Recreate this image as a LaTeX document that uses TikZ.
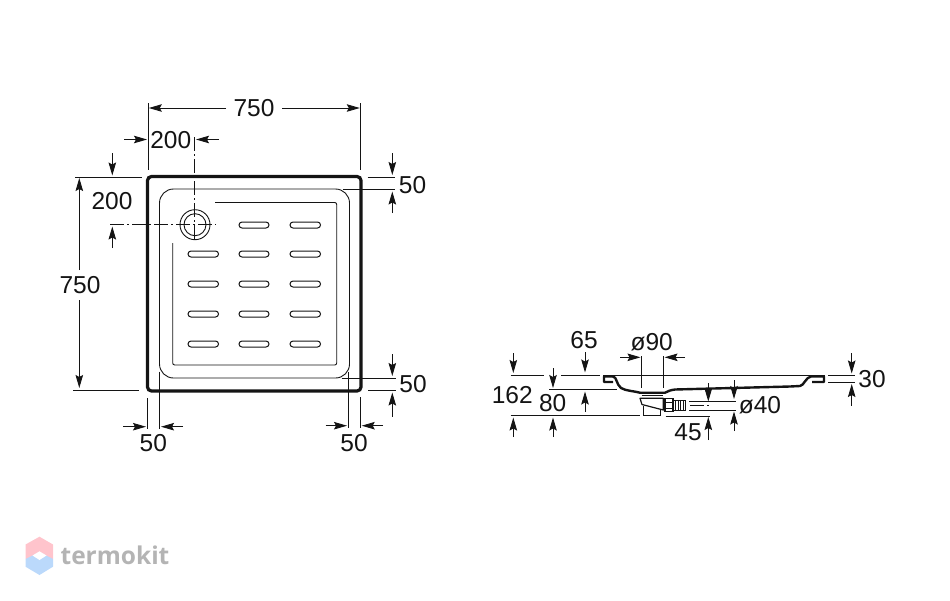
\documentclass[tikz,border=0pt]{standalone}
\usepackage{fontspec}
\setmainfont{Liberation Sans}
\newfontfamily\logofont{Open Sans}
\usetikzlibrary{arrows.meta}
\definecolor{inkline}{HTML}{141414}
\definecolor{logopink}{HTML}{FFC4CC}
\definecolor{logoblue}{HTML}{BBD9FB}
\definecolor{logogray}{HTML}{B4B4B4}
\tikzset{
  x=1pt, y=-1pt,
  dimline/.style={line width=.9pt, -{Stealth[length=13pt,width=7.5pt,inset=2pt]}},
  extline/.style={line width=.9pt},
  axisline/.style={line width=.8pt, dash pattern=on 14pt off 3pt on 2pt off 3pt},
  trayline/.style={line width=.9pt},
  heavyline/.style={line width=3.2pt},
  profile/.style={line width=2.4pt},
  slot/.style={line width=1pt, rounded corners=3pt},
  dimtext/.style={font=\fontsize{24.5}{26}\selectfont, text=inkline, inner sep=0pt}
}
\begin{document}
\begin{tikzpicture}[color=inkline]
\useasboundingbox (0,0) rectangle (950,600);
% plan view
\draw[heavyline, rounded corners=4pt] (147.5,176.5) rectangle (361,391);
\draw[trayline, rounded corners=14pt] (159.5,189) rectangle (349.5,378);
\draw[trayline, rounded corners=2pt] (172.7,243) -- (172.7,365) -- (336.7,365) -- (336.7,202.5) -- (215,202.5);
\draw[slot] (239,222) rectangle (269,228);
\draw[slot] (290,222) rectangle (320.5,228);
\draw[slot] (188,251) rectangle (218.5,257);
\draw[slot] (239,251) rectangle (269,257);
\draw[slot] (290,251) rectangle (320.5,257);
\draw[slot] (188,281) rectangle (218.5,287);
\draw[slot] (239,281) rectangle (269,287);
\draw[slot] (290,281) rectangle (320.5,287);
\draw[slot] (188,311) rectangle (218.5,317);
\draw[slot] (239,311) rectangle (269,317);
\draw[slot] (290,311) rectangle (320.5,317);
\draw[slot] (188,341) rectangle (218.5,347);
\draw[slot] (239,341) rectangle (269,347);
\draw[slot] (290,341) rectangle (320.5,347);
% drain
\draw[trayline] (195,224.7) circle (15);
\draw[trayline] (195,224.7) circle (11);
\draw[axisline] (194.7,137) -- (194.7,242);
\draw[axisline] (110,224.7) -- (216,224.7);
% 750 top
\draw[extline] (148.3,103) to (148.3,170);
\draw[extline] (360.3,103) to (360.3,170);
\draw[dimline] (226,108) -- (148.8,108);
\draw[dimline] (282,108) -- (359.8,108);
\node[dimtext] (widthlabel) at (254,108) {750};
% 200 top
\draw[dimline] (124,139.5) -- (147,139.5);
\draw[dimline] (219,139.5) -- (196,139.5);
\node[dimtext] (drainxlabel) at (170.7,140) {200};
% 200 left
\draw[dimline] (112.3,153) -- (112.3,175.5);
\draw[dimline] (112.3,248) -- (112.3,226.5);
\node[dimtext] (drainylabel) at (112,201.5) {200};
% 750 left
\draw[extline] (75,177) to (141.7,177);
\draw[extline] (73,390.7) to (139,390.7);
\draw[dimline] (79.3,270) -- (79.3,178);
\draw[dimline] (79.3,300) -- (79.3,388);
\node[dimtext] (depthlabel) at (80,285) {750};
% 50 top right
\draw[extline] (367.7,177.3) to (395,177.3);
\draw[extline] (342.7,189) to (395,189);
\draw[dimline] (392.3,153) -- (392.3,175);
\draw[dimline] (392.3,213) -- (392.3,191.5);
\node[dimtext] (rimtoplabel) at (412.5,185) {50};
% 50 bottom right
\draw[extline] (341.7,378.3) to (396,378.3);
\draw[extline] (368,390) to (396,390);
\draw[dimline] (392.3,354) -- (392.3,376);
\draw[dimline] (392.3,416.7) -- (392.3,392.5);
\node[dimtext] (rimbottomlabel) at (413,384) {50};
% 50 bottom left
\draw[extline] (147.3,398) to (147.3,429);
\draw[extline] (159.3,371.7) to (159.3,429);
\draw[dimline] (123,426.7) -- (146,426.7);
\draw[dimline] (183,426.7) -- (161,426.7);
\node[dimtext] (rimleftlabel) at (153.3,443.5) {50};
% 50 bottom right, horizontal
\draw[extline] (348.3,372) to (348.3,428);
\draw[extline] (360.3,397) to (360.3,428);
\draw[dimline] (325.7,425.7) -- (347,425.7);
\draw[dimline] (383,425.7) -- (361.7,425.7);
\node[dimtext] (rimrightlabel) at (354,443.5) {50};
% section view
\draw[trayline] (603,375) to (825,375);
\draw[profile, line join=round] (613,382) -- (604,382) -- (604,376.5) -- (613,376.5) .. controls (617,377) and (616,384) .. (621,388) .. controls (626,391) and (634,391) .. (640,392.7) -- (665,392.7) .. controls (668,391) and (671,390) .. (675,389.5) -- (790,386.5) -- (800,386) .. controls (804,385.5) and (806,377) .. (811,376.5) -- (824,376.5) -- (824,382) -- (812,382);
% drain body
\draw[trayline] (641.7,395) -- (663,395);
\draw[line width=1.2pt, line join=round] (640,398.3) -- (663.3,398.3) -- (663.3,410) -- (642,404.5) -- cycle;
\draw[trayline] (643.3,406) -- (643.3,415.5) -- (660,415.5) -- (660,409.5);
\draw[line width=1.2pt] (665,398.3) rectangle (673,411.7);
\draw[trayline] (665,402) -- (673,402);
\draw[trayline] (665,408) -- (673,408);
\draw[trayline] (663.3,401) -- (665,401);
\draw[trayline] (673,400) -- (685,400) -- (685,410) -- (673,410);
\draw[trayline] (675.5,400) -- (675.5,410);
\draw[trayline] (678,400) -- (678,410);
\draw[trayline] (680.5,400) -- (680.5,410);
\draw[trayline] (683,400) -- (683,410);
% 162, 80, 65
\draw[extline] (510.7,375) to (544,375);
\draw[extline] (561,375) to (600,375);
\draw[extline] (549.3,389.3) to (616.7,389.3);
\draw[extline] (510.7,415.3) to (640,415.3);
\draw[dimline] (513.3,353) -- (513.3,373);
\draw[dimline] (513.3,437) -- (513.3,417.5);
\node[dimtext] (heightlabel) at (512.3,395) {162};
\draw[dimline] (553,368) -- (553,388);
\draw[dimline] (553,437) -- (553,417.5);
\node[dimtext] (wastelabel) at (552.7,402.7) {80};
\draw[dimline] (585,352) -- (585,372.5);
\draw[dimline] (585,411.7) -- (585,391.5);
\node[dimtext] (liplabel) at (584,340) {65};
% 90
\draw[extline] (641.3,356) to (641.3,388);
\draw[extline] (663.3,356) to (663.3,388);
\draw[dimline] (620,357.3) -- (640.5,357.3);
\draw[dimline] (685,357.3) -- (664.5,357.3);
\node[dimtext] (outletlabel) at (651.7,341.7) {ø90};
% 40
\draw[extline] (689,401) to (736,401);
\draw[extline] (689,410) to (736,410);
\draw[axisline] (690,405.7) -- (711,405.7);
\draw[dimline] (734,380) -- (734,399);
\draw[dimline] (734,431) -- (734,411.5);
\node[dimtext] (pipelabel) at (760,405) {ø40};
% 45
\draw[extline] (665.7,416) to (710,416);
\draw[dimline] (708.3,383) -- (708.3,401.5);
\draw[dimline] (708.3,440) -- (708.3,417);
\node[dimtext] (pipeheightlabel) at (688,431.7) {45};
% 30
\draw[extline] (828,375) to (855,375);
\draw[extline] (828,382.3) to (855,382.3);
\draw[dimline] (851.7,353) -- (851.7,373.5);
\draw[dimline] (851.7,405.7) -- (851.7,384);
\node[dimtext] (thicklabel) at (872,379) {30};
% logo
\fill[logopink] (39.5,536.7) -- (25.5,544.5) -- (25.5,559) -- (53,559) -- (53,544.5) -- cycle;
\fill[logoblue] (25.5,559) -- (39.5,552) -- (53,559) -- (53,566.7) -- (39.5,575) -- (25.5,566.7) -- cycle;
\fill[white] (32.5,555.5) -- (39.5,551.3) -- (46.5,555.5) -- (39.5,560) -- cycle;
\node[inner sep=0pt, text=logogray, font=\logofont\bfseries\fontsize{24.5}{26}\selectfont] (brandlabel) at (115,555) {termokit};
\end{tikzpicture}
\end{document}
